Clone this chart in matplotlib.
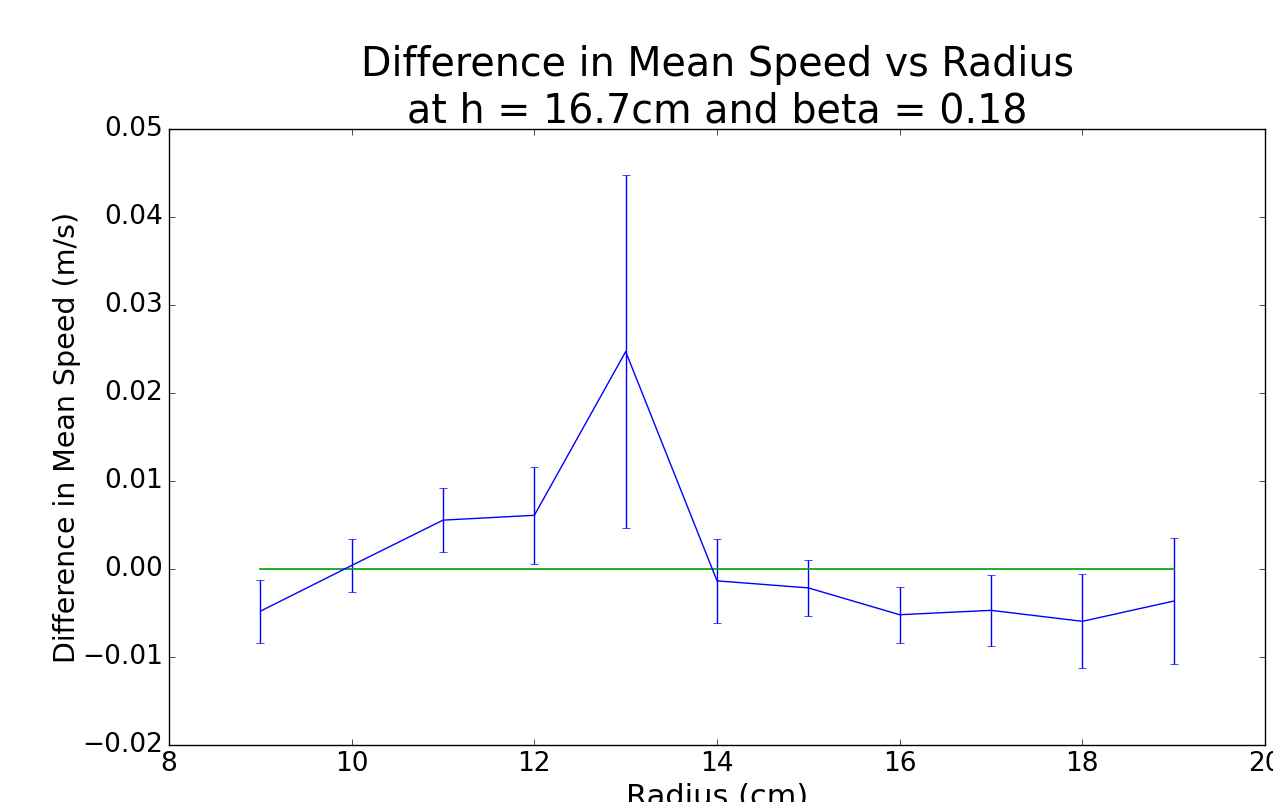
import matplotlib
matplotlib.use("Agg")
import matplotlib.pyplot as plt

radius = [9, 10, 11, 12, 13, 14, 15, 16, 17, 18, 19]
diff_speed = [-0.0048, 0.0004, 0.00555, 0.0061, 0.0247, -0.00135,
              -0.00215, -0.0052, -0.0047, -0.00595, -0.00365]
diff_err = [0.0036, 0.0030, 0.00365, 0.0055, 0.0201, 0.00475,
            0.00315, 0.0032, 0.0040, 0.00535, 0.00715]
zero_x = [9, 19]
zero_y = [0.0, 0.0]

plt.style.use("classic")
fig = plt.figure(figsize=(12.73, 8.02), dpi=100, facecolor="white")
ax = fig.add_axes([0.1328, 0.0711, 0.8609, 0.7681])

ax.errorbar(radius, diff_speed, yerr=diff_err, color="b", ecolor="b",
            lw=1.0, elinewidth=1.0, capsize=3)
ax.plot(zero_x, zero_y, color="#00a000", lw=1.2)

ax.set_xlim(8, 20)
ax.set_ylim(-0.02, 0.05)
ax.tick_params(labelsize=19)
ax.set_xlabel("Radius (cm)", fontsize=22)
ax.set_ylabel("Difference in Mean Speed (m/s)", fontsize=20.5, labelpad=1)
ax.set_title("Difference in Mean Speed vs Radius\nat h = 16.7cm and beta = 0.18",
             fontsize=28.5)

fig.savefig("out.png", dpi=100, facecolor="white")
